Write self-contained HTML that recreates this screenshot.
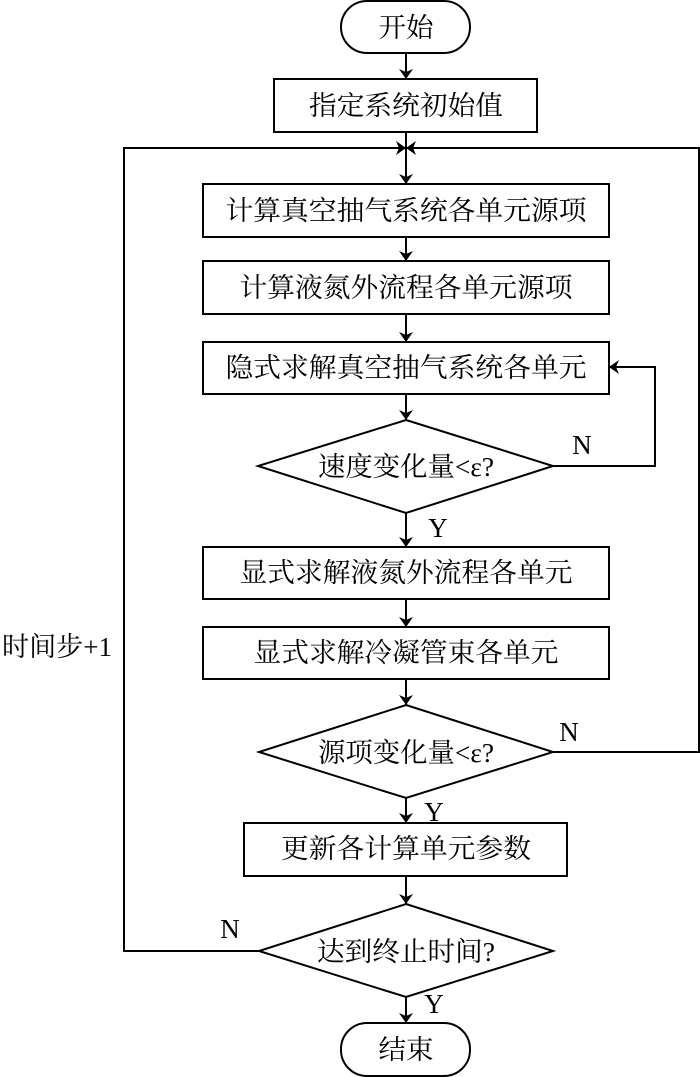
<!DOCTYPE html>
<html><head><meta charset="utf-8"><style>
html,body{margin:0;padding:0;background:#fff;width:700px;height:1077px;overflow:hidden}
svg{display:block}
text{font-family:"Liberation Serif","Noto Serif CJK SC","Noto Sans CJK SC",serif;font-size:27px;fill:#000}
</style></head><body>
<svg width="700" height="1077" viewBox="0 0 700 1077" xmlns="http://www.w3.org/2000/svg">
<defs><marker id="a" markerWidth="10" markerHeight="14" refX="10" refY="7" orient="auto" markerUnits="userSpaceOnUse"><path d="M0,0 L10,7 L0,14 L3,7 Z" fill="#000"/></marker></defs>
<g fill="none" stroke="#000" stroke-width="2">
<rect x="341" y="1" width="129" height="52" rx="26"/>
<rect x="274" y="79" width="263" height="53"/>
<rect x="203" y="184" width="406" height="53"/>
<rect x="203" y="261" width="406" height="53"/>
<rect x="203" y="342" width="406" height="52"/>
<polygon points="406,420 553,466 406,513 258,466"/>
<rect x="203" y="547" width="406" height="52"/>
<rect x="203" y="627" width="406" height="52"/>
<polygon points="406,705 553,752 406,798 259,752"/>
<rect x="244" y="823" width="323" height="53"/>
<polygon points="406,904 553,951 406,997 259,951"/>
<rect x="341" y="1023" width="129" height="53" rx="26"/>
<line x1="406" y1="53" x2="406" y2="79" marker-end="url(#a)"/>
<line x1="406" y1="132" x2="406" y2="184" marker-end="url(#a)"/>
<line x1="406" y1="237" x2="406" y2="261" marker-end="url(#a)"/>
<line x1="406" y1="314" x2="406" y2="342" marker-end="url(#a)"/>
<line x1="406" y1="394" x2="406" y2="420" marker-end="url(#a)"/>
<line x1="406" y1="513" x2="406" y2="547" marker-end="url(#a)"/>
<line x1="406" y1="599" x2="406" y2="627" marker-end="url(#a)"/>
<line x1="406" y1="679" x2="406" y2="705" marker-end="url(#a)"/>
<line x1="406" y1="798" x2="406" y2="823" marker-end="url(#a)"/>
<line x1="406" y1="876" x2="406" y2="904" marker-end="url(#a)"/>
<line x1="406" y1="997" x2="406" y2="1023" marker-end="url(#a)"/>
<polyline points="553,466 655,466 655,367 609,367" marker-end="url(#a)"/>
<polyline points="553,752 699,752 699,148 406,148" marker-end="url(#a)"/>
<polyline points="259,951 124,951 124,148 406,148" marker-end="url(#a)"/>
</g>
<g text-anchor="middle" dominant-baseline="central">
<text x="406" y="28" textLength="55" lengthAdjust="spacingAndGlyphs">开始</text>
<text x="406" y="106" textLength="194" lengthAdjust="spacingAndGlyphs">指定系统初始值</text>
<text x="406" y="211" textLength="361" lengthAdjust="spacingAndGlyphs">计算真空抽气系统各单元源项</text>
<text x="406" y="288" textLength="333" lengthAdjust="spacingAndGlyphs">计算液氮外流程各单元源项</text>
<text x="406" y="368" textLength="361" lengthAdjust="spacingAndGlyphs">隐式求解真空抽气系统各单元</text>
<text x="406" y="467" textLength="176" lengthAdjust="spacingAndGlyphs">速度变化量&lt;ε?</text>
<text x="406" y="573" textLength="333" lengthAdjust="spacingAndGlyphs">显式求解液氮外流程各单元</text>
<text x="406" y="653" textLength="305" lengthAdjust="spacingAndGlyphs">显式求解冷凝管束各单元</text>
<text x="406" y="753" textLength="176" lengthAdjust="spacingAndGlyphs">源项变化量&lt;ε?</text>
<text x="406" y="849" textLength="250" lengthAdjust="spacingAndGlyphs">更新各计算单元参数</text>
<text x="406" y="952" textLength="178" lengthAdjust="spacingAndGlyphs">达到终止时间?</text>
<text x="406" y="1050" textLength="55" lengthAdjust="spacingAndGlyphs">结束</text>
<text x="582" y="445">N</text>
<text x="438" y="528">Y</text>
<text x="569" y="732">N</text>
<text x="434" y="812">Y</text>
<text x="230" y="929">N</text>
<text x="434" y="1004">Y</text>
<text x="57" y="647" textLength="110" lengthAdjust="spacingAndGlyphs">时间步+1</text>
</g>
</svg>
</body></html>
